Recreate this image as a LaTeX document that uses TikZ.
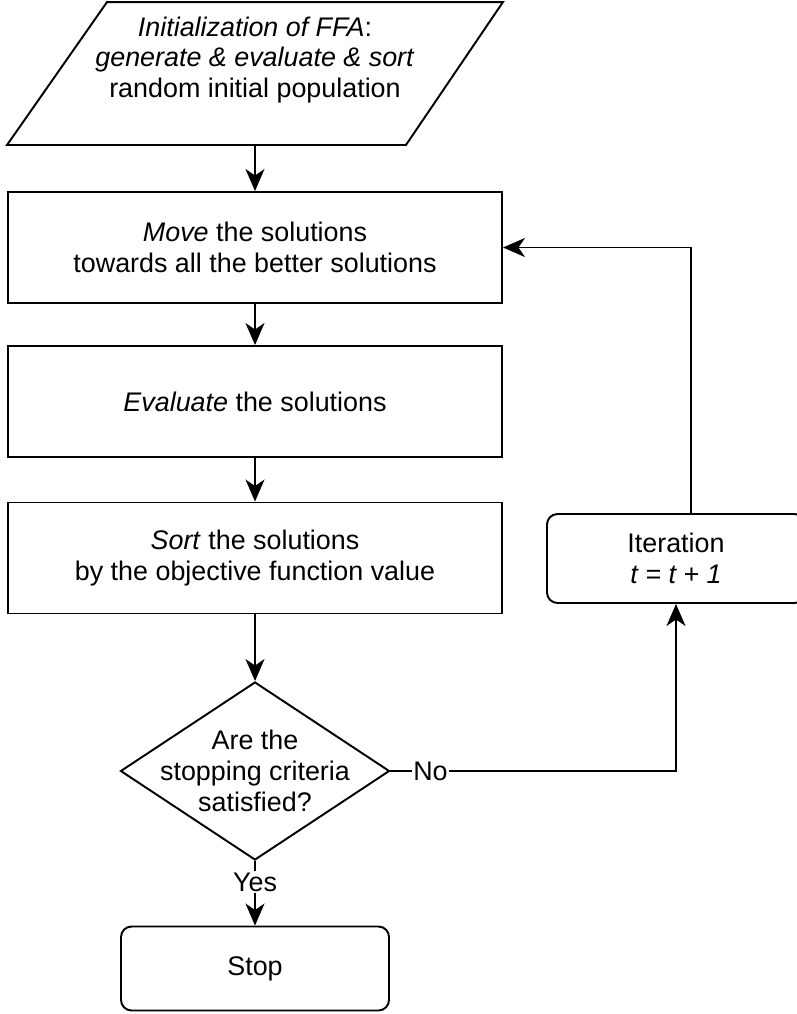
\documentclass[tikz,border=0pt]{standalone}
\usepackage{fontspec}
\setmainfont{Liberation Sans}
\usetikzlibrary{arrows.meta,positioning,shapes.geometric,calc}

\begin{document}
\begin{tikzpicture}[
    font=\fontsize{15.3pt}{17.6pt}\selectfont,
    >={Stealth[length=4.4mm, width=3.8mm, inset=1.3mm]},
    line width=1.1pt,
    stepbox/.style={draw, minimum width=9.88cm, minimum height=2.22cm, align=center},
    roundbox/.style={draw, rounded corners=6pt, align=center},
    io/.style={minimum width=9.88cm, minimum height=2.82cm, inner sep=0pt},
    decision/.style={draw, diamond, minimum width=5.38cm, minimum height=3.56cm, inner sep=0pt},
    edge/.style={->},
    tag/.style={fill=white, inner sep=1pt}
]
\useasboundingbox (0,0) rectangle (15.94,-20.28);

% --- Initialization: parallelogram drawn round an empty node ---
\node[io, label={[align=center, yshift=2.7mm]center:{\textit{Initialization of FFA}:\\
  \textit{generate \& evaluate \& sort}\\ random initial population}}] (init) at (5.1,-1.47) {};
\draw ($(init.north west)+(2.0,0)$) -- (init.north east)
  -- ($(init.south east)+(-1.94,0)$) -- (init.south west) -- cycle;

% --- Main loop steps ---
\node[stepbox] (move) at (5.1,-4.95)  {\textit{Move} the solutions\\ towards all the better solutions};
\node[stepbox] (eval) at (5.1,-8.03)  {\textit{Evaluate} the solutions};
\node[stepbox] (sort) at (5.1,-11.16) {\textit{Sort} the solutions\\ by the objective function value};

\node[decision, label={[align=center]center:{Are the\\ stopping criteria\\ satisfied?}}] (dec) at (5.1,-15.42) {};

\node[roundbox, minimum width=5.16cm, minimum height=1.78cm] (iter) at (13.52,-11.17)
  {Iteration\\ \textit{t = t + 1}};
\node[roundbox, minimum width=5.36cm, minimum height=1.68cm] (stop) at (5.1,-19.37) {Stop};

% Connectors
\draw[edge] (init.south) -- (move.north);
\draw[edge] (move.south) -- (eval.north);
\draw[edge] (eval.south) -- (sort.north);
\draw[edge] (sort.south) -- (dec.north);
\draw[edge] (dec.south) -- node[tag, pos=0.33] {Yes} (stop.north);
\draw[edge] (dec.east) -| node[tag, pos=0.07] {No} (iter.south);
\draw[edge] ([xshift=3mm]iter.north) |- (move.east);

\end{tikzpicture}
\end{document}
